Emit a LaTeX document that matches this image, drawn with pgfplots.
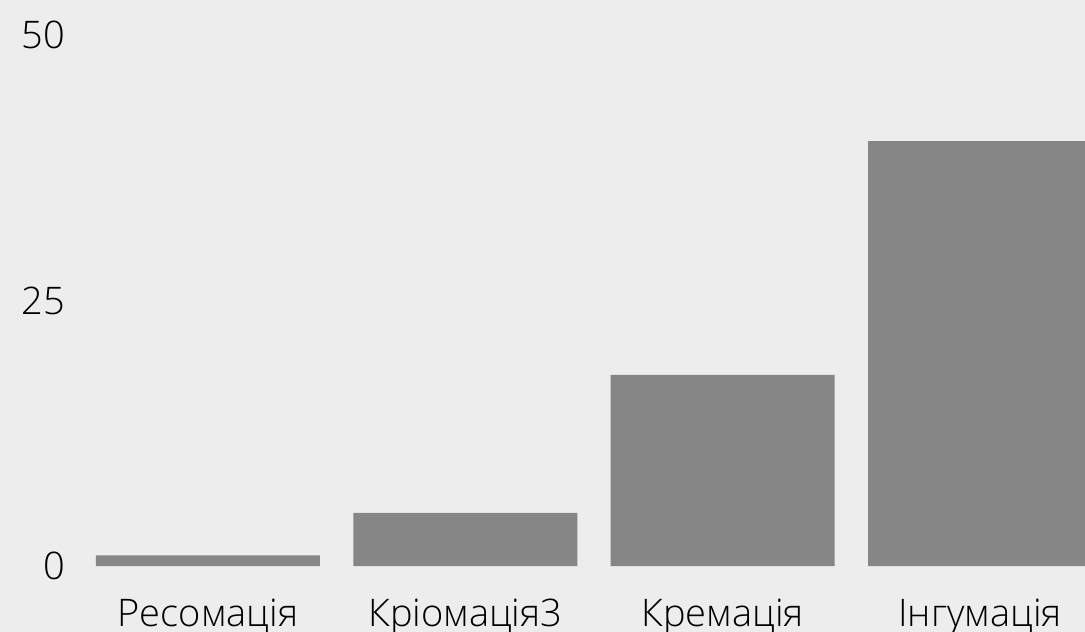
\documentclass[border=0pt]{standalone}
\usepackage{fontspec}
\setmainfont{Open Sans Light}
\usepackage{pgfplots}
\pgfplotsset{compat=1.18}
\definecolor{bg}{HTML}{EDEDED}
\definecolor{bar}{HTML}{868686}
\begin{document}
\begin{tikzpicture}
\begin{axis}[
  at={(0pt,0pt)}, anchor=south west,
  scale only axis,
  width=1085pt, height=632pt,
  xmin=-0.808, xmax=3.408,
  ymin=-6.21, ymax=53.3,
  axis background/.style={fill=bg},
  axis line style={draw=none},
  tick style={draw=none},
  ybar, bar width=0.870, bar shift=0pt,
  xtick={0,1,2,3},
  xticklabels={Ресомація, Кріомація3, Кремація, Інгумація},
  ytick={0,25,50},
  tick label style={font=\fontsize{38}{44}\selectfont, text=black},
  xticklabel style={anchor=base, inner sep=0pt, yshift=10pt},
  yticklabel style={anchor=east, inner sep=0pt, xshift=65pt},
  /pgf/number format/assume math mode=true,
]
\addplot[fill=bar, draw=none] coordinates {(0,1) (1,5) (2,18) (3,40)};
\end{axis}
\pgfresetboundingbox
\path (0pt,0pt) rectangle (1085pt,632pt);
\end{tikzpicture}
\end{document}
